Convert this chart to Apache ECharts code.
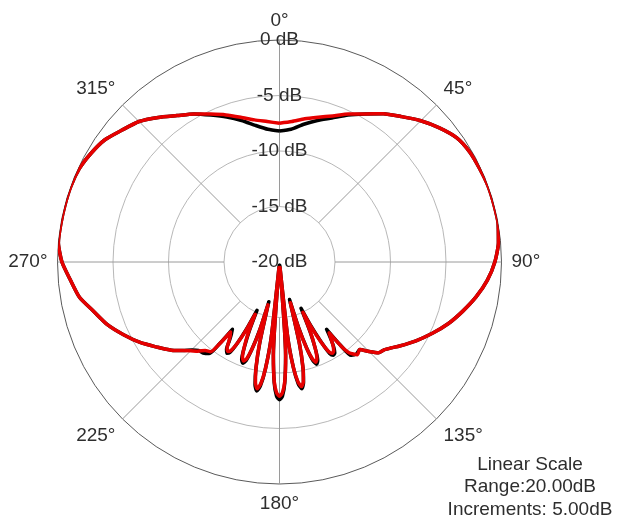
<!DOCTYPE html>
<html><head><meta charset="utf-8">
<script src="https://cdn.jsdelivr.net/npm/echarts@6/dist/echarts.min.js"></script>
<style>html,body{margin:0;padding:0;background:#fff}#c{width:632px;height:522px}</style>
</head><body><div id="c"></div>
<script>
// Angles in degrees (clockwise from top), values in dB
const angles = [
  0,5,10,15,20,25,30,35,40,45,50,55,60,65,70,75,80,85,90,95,100,105,110,115,120,125,
  127.5,130,132.5,135,137.5,140,
  142.5,143.75,145,146.25,147.5,148.75,150,151.25,152.5,153.75,155,156.25,157.5,158.75,160,161.25,
  162.5,163.75,165,166.25,167.5,168.75,170,171.25,172.5,173.75,175,176.25,177.5,178.75,180,
  181.25,182.5,183.75,185,186.25,187.5,188.75,190,191.25,192.5,193.75,195,196.25,197.5,198.75,
  200,201.25,202.5,203.75,205,206.25,207.5,208.75,210,211.25,212.5,213.75,215,216.25,217.5,
  220,222.5,225,227.5,230,232.5,235,
  240,245,250,255,260,265,270,275,280,285,290,295,300,305,310,315,320,325,330,335,340,345,350,355,360];
const redDb = [
  -7.5,-7.3,-6.9,-6.5,-6.0,-5.3,-4.6,-3.7,-2.9,-2.0,-1.2,-0.5,-0.2,-0.1,0,0,0,-0.2,-0.6,-1.2,-2.0,-2.9,-3.8,-4.8,-5.8,-6.8,
  -7.3,-7.7,-7.9,-8.6,-9.3,-9.1,
  -9.7,-10.6,-12.2,-11.6,-11.0,-10.6,-10.5,-10.8,-11.8,-13.2,-15.0,-13.0,-11.6,-10.7,-10.4,-10.8,
  -11.8,-13.6,-16.2,-12.4,-10.2,-9.0,-8.6,-9.1,-10.4,-13.0,-19.5,-11.5,-9.2,-8.2,-7.9,
  -8.2,-9.2,-11.5,-19.5,-13.0,-10.3,-8.9,-8.4,-8.9,-10.2,-12.4,-16.0,-13.4,-11.8,-10.8,
  -10.5,-10.8,-11.7,-13.0,-14.8,-13.0,-11.7,-10.9,-10.7,-10.9,-11.5,-12.0,-12.3,-10.8,-9.8,
  -9.6,-9.1,-8.7,-8.2,-7.6,-7.1,-6.6,
  -5.5,-4.5,-3.5,-2.7,-1.7,-1.1,-0.4,0,0,0,0,-0.1,-0.4,-0.8,-1.5,-2.1,-3.0,-3.9,-4.6,-5.3,-5.9,-6.5,-7.0,-7.3,-7.5];
const blackDb = [
  -8.2,-8.0,-7.4,-6.8,-6.2,-5.4,-4.6,-3.7,-2.9,-2.0,-1.2,-0.5,-0.2,-0.1,0,0,0,-0.2,-0.6,-1.2,-2.0,-2.9,-3.8,-4.8,-5.8,-6.8,
  -7.3,-7.7,-7.9,-8.6,-9.3,-9.2,
  -9.4,-10.7,-12.6,-11.7,-10.9,-10.4,-10.3,-10.6,-11.9,-13.5,-15.4,-13.2,-11.6,-10.5,-10.2,-10.6,
  -11.9,-13.9,-16.5,-12.6,-10.2,-8.9,-8.4,-8.9,-10.4,-13.2,-19.7,-11.6,-9.1,-7.9,-7.6,
  -7.9,-9.1,-11.6,-19.7,-13.2,-10.3,-8.7,-8.2,-8.7,-10.2,-12.6,-16.3,-13.6,-11.8,-10.6,
  -10.3,-10.6,-11.8,-13.3,-15.2,-13.2,-11.7,-10.7,-10.5,-10.8,-11.6,-12.2,-12.6,-10.9,-9.6,
  -9.3,-9.2,-8.8,-8.2,-7.6,-7.1,-6.6,
  -5.5,-4.5,-3.5,-2.7,-1.7,-1.1,-0.4,0,0,0,0,-0.1,-0.4,-0.8,-1.5,-2.1,-3.0,-3.9,-4.6,-5.4,-6.1,-6.8,-7.5,-8.0,-8.2];
const radiusTicks = [-20, -15, -10, -5, 0];
const angleTickStep = 45;
const noteLines = ['Linear Scale', 'Range:20.00dB', 'Increments: 5.00dB'];

const FONT = "'Liberation Sans', Arial, Helvetica, sans-serif";
const TXT = '#2e2e2e';
const chart = echarts.init(document.getElementById('c'), null, {renderer: 'canvas'});
const center = [279.5, 262];
const R = 222;
const innerR = R * (radiusTicks[1] - radiusTicks[0]) / (radiusTicks[radiusTicks.length-1] - radiusTicks[0]);

function toPairs(vals) { return vals.map((v, i) => [v, angles[i]]); }

chart.setOption({
  animation: false,
  backgroundColor: '#fff',
  textStyle: {fontFamily: FONT},
  polar: [
    {center: center, radius: [innerR, R]},
    {center: center, radius: [0, R]}
  ],
  angleAxis: [
    {polarIndex: 0, type: 'value', min: 0, max: 360, interval: angleTickStep, startAngle: 90, clockwise: true,
      axisLine: {show: false}, axisTick: {show: false}, splitArea: {show: false},
      splitLine: {show: true, lineStyle: {color: '#9a9a9a', width: 1}},
      axisLabel: {show: true, margin: 10, fontSize: 19, color: TXT, fontFamily: FONT,
        formatter: v => (v >= 360 ? '' : v + '°')}},
    {polarIndex: 1, type: 'value', min: 0, max: 360, interval: angleTickStep, startAngle: 90, clockwise: true, show: false}
  ],
  radiusAxis: [
    {polarIndex: 0, type: 'value', min: radiusTicks[0], max: radiusTicks[radiusTicks.length-1], show: false},
    {polarIndex: 1, type: 'value', min: radiusTicks[0], max: radiusTicks[radiusTicks.length-1], interval: 5,
      axisLine: {show: false}, axisTick: {show: false},
      splitLine: {show: true, lineStyle: {color: ['#b8b8b8','#b8b8b8','#b8b8b8','#b8b8b8','#5a5a5a'], width: 1}},
      axisLabel: {show: true, margin: 0, align: 'center', verticalAlign: 'middle', fontSize: 19, color: TXT, fontFamily: FONT,
        showMinLabel: true, showMaxLabel: true, formatter: v => v + ' dB'}}
  ],
  series: [
    {type: 'line', coordinateSystem: 'polar', polarIndex: 1, data: toPairs(blackDb), showSymbol: false, clip: false,
      smooth: 0.2, lineStyle: {color: '#000', width: 3.5, join: 'round'}, z: 3},
    {type: 'line', coordinateSystem: 'polar', polarIndex: 1, data: toPairs(redDb), showSymbol: false, clip: false,
      smooth: 0.2, lineStyle: {color: '#e60000', width: 3.5, join: 'round'}, z: 4}
  ],
  graphic: [{
    type: 'text', x: 530, y: 453.5,
    style: {text: noteLines.join('\n'), align: 'center', verticalAlign: 'top', lineHeight: 22.5,
      font: "19px 'Liberation Sans', Arial, sans-serif", fill: TXT}
  }]
});
</script></body></html>
